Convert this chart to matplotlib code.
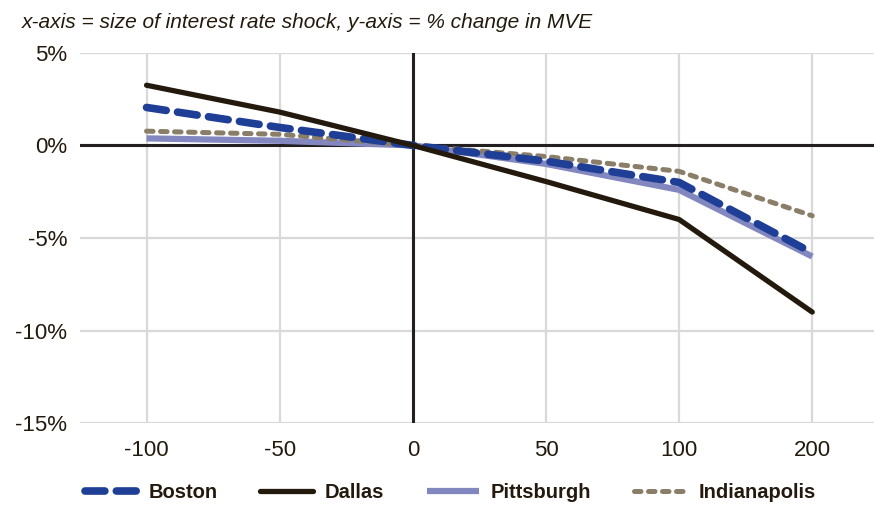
import matplotlib.pyplot as plt
import numpy as np

shocks = ['-100', '-50', '0', '50', '100', '200']
boston = [2.05, 0.97, 0.0, -0.85, -2.0, -5.8]
dallas = [3.25, 1.8, 0.0, -1.95, -4.0, -9.0]
pittsburgh = [0.38, 0.25, 0.0, -1.0, -2.4, -6.0]
indianapolis = [0.77, 0.6, 0.0, -0.6, -1.4, -3.8]
yticks = [5, 0, -5, -10, -15]

plt.rcParams['font.family'] = ['Liberation Sans Narrow', 'Liberation Sans', 'DejaVu Sans']
txt = '#231a0d'

fig = plt.figure(figsize=(8.74, 5.08), dpi=100)
ax = fig.add_axes([0.0915, 0.167, 0.914, 0.729])
x = np.arange(len(shocks))

ax.plot(x, pittsburgh, color='#8387c0', lw=4.5, solid_capstyle='butt', zorder=3, label='Pittsburgh')
ax.plot(x, indianapolis, color='#8a7e68', lw=3.6, dashes=(1.3, 1.5), dash_capstyle='round', zorder=4, label='Indianapolis')
ax.plot(x, boston, color='#1f3f96', lw=5.5, dashes=(2.6, 1.5), dash_capstyle='round', zorder=5, label='Boston')
ax.plot(x, dallas, color=txt, lw=3.8, solid_capstyle='round', zorder=6, label='Dallas')

ax.axhline(0, color='#231f20', lw=2.2, zorder=2)
ax.axvline(2, color='#231f20', lw=2.2, zorder=2)

ax.set_xlim(-0.5, 5.5)
ax.set_ylim(-15, 5)
ax.set_xticks(x)
ax.set_xticklabels(shocks)
ax.set_yticks(yticks)
ax.set_yticklabels([f'{v}%' for v in yticks])
ax.grid(True, color='#d9d9d9', lw=1.6, zorder=0)
ax.set_axisbelow(True)
for s in ax.spines.values():
    s.set_visible(False)
ax.tick_params(length=0, labelsize=16, colors=txt, pad=12)
ax.tick_params(axis='y', pad=9)

fig.text(0.025, 0.955, 'x-axis = size of interest rate shock, y-axis = % change in MVE',
         fontsize=15, style='italic', color=txt, va='center')

h, l = ax.get_legend_handles_labels()
order = [2, 3, 0, 1]
leg = fig.legend([h[i] for i in order], [l[i] for i in order], loc='center left',
                 bbox_to_anchor=(0.076, 0.03), ncol=4, frameon=False,
                 handlelength=2.6, handletextpad=0.6, columnspacing=2.1,
                 prop={'weight': 'bold', 'size': 14.5})
for t in leg.get_texts():
    t.set_color(txt)

fig.savefig('out.png', dpi=100)
